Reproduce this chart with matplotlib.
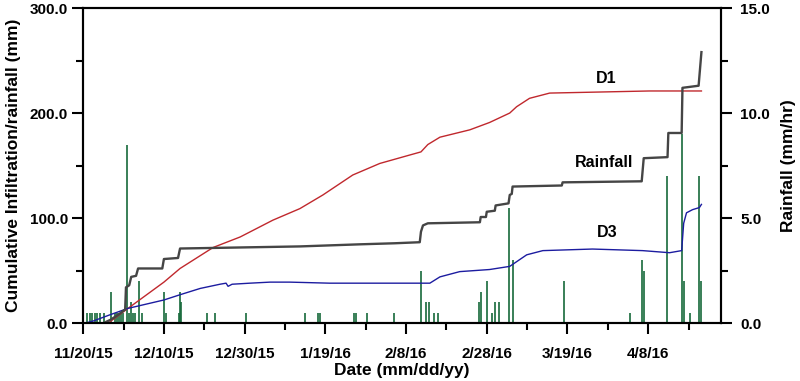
#!/usr/bin/env python3
import matplotlib
matplotlib.use("Agg")
import matplotlib.pyplot as plt
from matplotlib.ticker import MultipleLocator

# days since 11/20/15
tick_days = [0, 20, 40, 60, 80, 100, 120, 140]
tick_labels = ["11/20/15", "12/10/15", "12/30/15", "1/19/16",
               "2/8/16", "2/28/16", "3/19/16", "4/8/16"]

# cumulative rainfall (mm), step-like trace
rain_day = [5.0, 6.7, 8.7, 10.4, 10.6, 11.4, 11.9, 13.1, 13.6, 19.6, 20.0,
            23.5, 24.0, 38.9, 53.7, 68.6, 77.2, 83.4, 83.7, 84.2, 85.4,
            98.3, 98.5, 99.8, 100.0, 102.0, 102.2, 105.4, 105.7, 106.2,
            106.4, 118.6, 118.8, 138.4, 138.9, 144.8, 145.0, 148.3, 148.5,
            152.5, 153.2]
rain_cum = [0, 3, 8, 13, 34, 36, 44, 45, 52, 52, 61,
            62, 71, 72, 73, 75, 76, 77, 87, 93, 95,
            96, 101, 101, 106, 107, 112, 114, 122, 123,
            130, 131, 134, 135, 157, 158, 181, 181, 224,
            226, 258]

# cumulative infiltration D1 (mm)
d1_day = [6.2, 11.1, 20.0, 24.0, 32.2, 38.9, 47.0, 53.7, 59.4, 66.8, 73.5,
          80.9, 83.7, 85.4, 88.4, 95.8, 100.7, 105.7, 107.4, 110.6, 115.6,
          128.0, 140.3, 153.2]
d1_cum = [0, 14, 39, 52, 72, 82, 98, 109, 122, 141, 152,
          160, 163, 170, 177, 184, 191, 200, 206, 214, 219,
          220, 221, 221]

# cumulative infiltration D3 (mm)
d3_day = [0.5, 2.5, 6.7, 11.1, 20.0, 24.0, 29.0, 33.9, 35.4, 35.9, 36.9,
          41.3, 46.3, 51.2, 61.1, 85.9, 88.4, 93.3, 100.7, 105.7, 109.9,
          113.9, 126.2, 138.6, 145.3, 148.3, 148.8, 149.5, 151.0, 152.7,
          153.2]
d3_cum = [0, 2, 8, 14, 22, 27, 33, 37, 38, 35, 37,
          38, 39, 39, 38, 38, 44, 49, 51, 54, 65,
          69, 70.5, 69, 67, 69, 95, 105, 108, 110,
          113]

# rainfall intensity (mm/hr)
int_day = [0.9, 1.6, 2.2, 2.9, 3.5, 4.2, 5.2, 6.9, 7.9, 8.4, 8.9, 9.4, 9.9,
           10.8, 11.3, 11.9, 12.4, 12.9, 13.9, 14.5, 20.0, 20.5, 23.8, 24.0,
           24.3, 30.6, 32.7, 40.3, 55.0, 58.3, 58.7, 67.1, 67.6, 70.4, 77.0,
           83.8, 85.0, 85.6, 86.9, 87.9, 98.0, 98.7, 100.0, 101.2, 102.0,
           103.0, 105.5, 106.4, 119.1, 135.6, 138.5, 138.9, 144.7, 148.4,
           148.8, 150.4, 152.7, 153.0]
int_val = [0.5, 0.5, 0.5, 0.5, 0.5, 0.5, 0.5, 1.5, 0.5, 0.5, 0.5, 0.5, 0.5,
           8.5, 0.5, 1.0, 0.5, 0.5, 2.0, 0.5, 1.5, 0.5, 0.5, 1.5,
           1.0, 0.5, 0.5, 0.5, 0.5, 0.5, 0.5, 0.5, 0.5, 0.5, 0.5,
           2.5, 1.0, 1.0, 0.5, 0.5, 1.0, 1.5, 2.0, 0.5, 1.0,
           1.0, 5.5, 3.0, 2.0, 0.5, 3.0, 2.5, 7.0, 9.0,
           2.0, 0.5, 7.0, 2.0]

plt.rcParams['font.family'] = ['Liberation Sans', 'DejaVu Sans']
plt.rcParams['font.weight'] = 'bold'
plt.rcParams['axes.labelweight'] = 'bold'


def main():
    fig = plt.figure(figsize=(8.0, 3.81), dpi=100)
    ax = fig.add_axes([0.104, 0.152, 0.797, 0.827])
    ax2 = ax.twinx()

    # rain intensity bars on right axis, behind the lines
    ax2.vlines(int_day, 0, int_val, color='#17693b', linewidth=1.2)
    ax2.set_ylim(0, 15)
    ax2.yaxis.set_major_locator(MultipleLocator(5))
    ax2.yaxis.set_minor_locator(MultipleLocator(2.5))
    ax2.set_yticklabels([f"{v:.1f}" for v in ax2.get_yticks()])
    ax2.set_ylabel("Rainfall (mm/hr)", fontsize=12.5, labelpad=8)

    ax.set_zorder(ax2.get_zorder() + 1)
    ax.patch.set_visible(False)

    ax.plot(d1_day, d1_cum, color='#c0282d', linewidth=1.0)
    ax.plot(d3_day, d3_cum, color='#1c1ca0', linewidth=1.0)
    ax.plot(rain_day, rain_cum, color='#454545', linewidth=1.7)

    ax.text(129.7, 233, "D1", fontsize=11.5, ha='center', va='center')
    ax.text(129.0, 153, "Rainfall", fontsize=11.5, ha='center', va='center')
    ax.text(129.9, 86, "D3", fontsize=11.5, ha='center', va='center')

    ax.set_xlim(0, 158)
    ax.set_ylim(0, 300)
    ax.set_xticks(tick_days)
    ax.set_xticklabels(tick_labels)
    ax.xaxis.set_minor_locator(MultipleLocator(10))
    ax.yaxis.set_major_locator(MultipleLocator(100))
    ax.yaxis.set_minor_locator(MultipleLocator(50))
    ax.set_yticklabels([f"{v:.1f}" for v in ax.get_yticks()])

    ax.set_xlabel("Date (mm/dd/yy)", fontsize=12.5, labelpad=2)
    ax.set_ylabel("Cumulative Infiltration/rainfall (mm)", fontsize=12.5, labelpad=6)

    for a in (ax, ax2):
        for s in a.spines.values():
            s.set_linewidth(1.5)
        a.tick_params(which='major', direction='out', length=8, width=1.5,
                      labelsize=11, pad=3)
        a.tick_params(which='minor', direction='out', length=5, width=1.5)
    ax2.tick_params(which='major', pad=6)
    ax.tick_params(axis='x', which='major', pad=9)

    fig.savefig("out.png", dpi=100)
    plt.close(fig)


if __name__ == "__main__":
    main()
